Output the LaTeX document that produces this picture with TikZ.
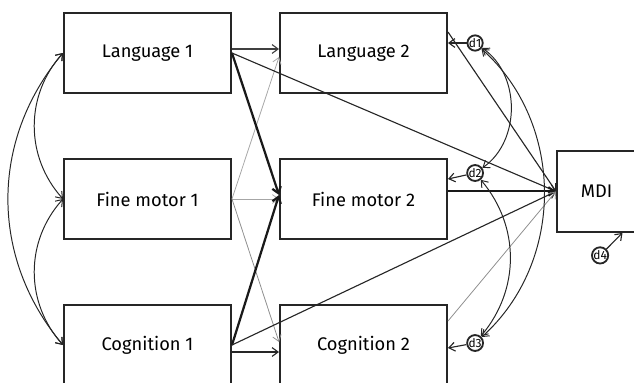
\documentclass[tikz,border=0pt]{standalone}
\usepackage{fontspec}
\setmainfont{Fira Sans}
\usepackage{tikz}
\usetikzlibrary{positioning, arrows.meta}
\tikzstyle{var} = [rectangle, minimum width=4.175cm, minimum height=2cm, draw=black!85, line width=1.4pt, font=\fontsize{13}{15}\selectfont]
\tikzstyle{outcome} = [rectangle, minimum width=1.975cm, minimum height=2.025cm, draw=black!85, line width=1.4pt, font=\fontsize{13}{15}\selectfont]
\tikzstyle{err} = [circle, draw=black!85, line width=1.3pt, minimum size=0.38cm, inner sep=0pt, font=\fontsize{8.5}{8.5}\selectfont]
\tikzstyle{path} = [->, line width=0.8pt, black!85]
\tikzstyle{weak} = [->, line width=0.55pt, black!35]
\tikzstyle{strong} = [->, line width=1.6pt, black!90]
\tikzstyle{cov} = [<->, line width=0.7pt, black!85]

\begin{document}
\begin{tikzpicture}[node distance=3.65cm, >={Straight Barb[length=1.5mm,width=2.2mm]}]
\useasboundingbox (-3.6875,1.325) rectangle (12.1625,-8.225);
\node (lang1) [var] {Language 1};
\node (fine1) [var, below of=lang1] {Fine motor 1};
\node (cog1) [var, below of=fine1] {Cognition 1};
\node (lang2) [var, right of=lang1, xshift=1.75cm] {Language 2};
\node (fine2) [var, right of=fine1, xshift=1.75cm] {Fine motor 2};
\node (cog2) [var, right of=cog1, xshift=1.75cm] {Cognition 2};
\node (mdi) [outcome, right of=fine2, xshift=2.175cm, yshift=0.19cm] {MDI};
\node (d1) [err, right of=lang2, xshift=-0.86cm, yshift=0.25cm] {d1};
\node (d2) [err, right of=fine2, xshift=-0.86cm, yshift=0.65cm] {d2};
\node (d3) [err, right of=cog2, xshift=-0.86cm, yshift=0.05cm] {d3};
\node (d4) [err, below of=mdi, yshift=2.05cm, xshift=0.09cm] {d4};
% paths from time 1
\draw [weak] (fine1.east) -- ([yshift=-0.1cm]lang2.west);
\draw [weak] (fine1.east) -- (fine2.west);
\draw [weak, black!45] (fine1.east) -- ([yshift=0.075cm]cog2.west);
\draw [path, black!75] ([yshift=0.1cm]lang1.east) -- ([yshift=0.1cm]lang2.west);
\draw [strong] (lang1.east) -- ([yshift=0.1cm]fine2.west);
\draw [path] (lang1.east) -- (mdi.west);
\draw [strong] (cog1.east) -- ([yshift=0.1cm]fine2.west);
\draw [path] (cog1.east) -- (mdi.west);
\draw [path] ([yshift=-0.175cm]cog1.east) -- ([yshift=-0.175cm]cog2.west);
% paths to MDI
\draw [path] ([yshift=0.525cm]lang2.east) -- (mdi.west);
\draw [strong, line width=1.3pt] (fine2.east |- mdi.west) -- (mdi.west);
\draw [weak, black!45] ([yshift=-0.425cm]cog2.north east) -- (mdi.west);
% disturbances
\draw [path] (d1) -- (d1 -| lang2.east);
\draw [path] (d2) -- ([yshift=0.5cm]fine2.east);
\draw [path] (d3) -- ([yshift=-0.075cm]cog2.east);
\draw [path] (d4) -- ([xshift=0.65cm]mdi.south);
% covariances
\draw [cov] (lang1.west) to[bend right=42] (fine1.west);
\draw [cov] (fine1.west) to[bend right=42] (cog1.west);
\draw [cov] (lang1.west) to[bend right=40] (cog1.west);
\draw [cov] (d1) to[bend left=55] (d2);
\draw [cov] (d2) to[bend left=40] (d3);
\draw [cov] (d1) to[bend left=48] (d3);
\end{tikzpicture}
\end{document}
